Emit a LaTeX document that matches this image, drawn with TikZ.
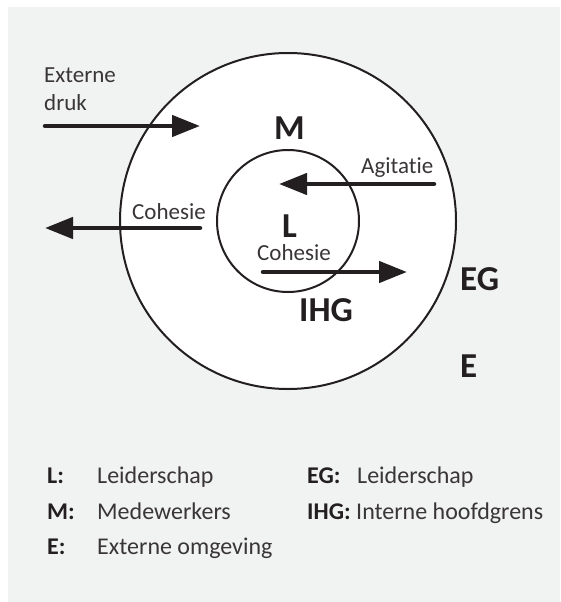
\documentclass[tikz,border=0pt]{standalone}
\usepackage{fontspec}
\setmainfont{Carlito}[Ligatures=NoCommon]
\usetikzlibrary{arrows.meta}
\definecolor{bgc}{HTML}{F1F2F2}
\definecolor{ink}{HTML}{231F20}
\definecolor{inklight}{HTML}{3A3637}
\tikzset{
  ring/.style={circle, draw=ink, line width=2pt, fill=white, inner sep=0pt},
  flow/.style={draw=ink, line width=4.5pt, line cap=round, -{Triangle[length=28pt,width=21pt]}},
  lbl/.style={anchor=base west, inner sep=0pt, text=inklight, font=\fontsize{23}{26}\selectfont},
  big/.style={anchor=base west, inner sep=0pt, text=ink, font=\fontsize{35}{38}\selectfont\bfseries},
  keyb/.style={anchor=base west, inner sep=0pt, text=ink, font=\fontsize{24}{27}\selectfont\bfseries},
  keyt/.style={anchor=base west, inner sep=0pt, text=inklight, font=\fontsize{24}{27}\selectfont}
}
\begin{document}
\begin{tikzpicture}[x=1pt,y=-1pt]
\fill[white] (0,0) rectangle (560,602);
\fill[bgc] (8,7) rectangle (560,602);
\useasboundingbox (0,0) rectangle (560,602);
% circles
\node[ring, minimum size=336pt] (outer) at (288,221) {};
\node[ring, minimum size=142pt] (inner) at (288,221) {};
% arrow end points
\coordinate (ext1) at (45,126);
\coordinate (ext2) at (200,126);
\coordinate (coh1) at (200,228);
\coordinate (coh2) at (45,228);
\coordinate (agi1) at (434,184);
\coordinate (agi2) at (279,184);
\coordinate (ic1) at (263,272);
\coordinate (ic2) at (407,272);
\draw[flow] (ext1) -- (ext2);
\draw[flow] (coh1) -- (coh2);
\draw[flow] (agi1) -- (agi2);
\draw[flow] (ic1) -- (ic2);
% labels
\node[lbl] (t1) at (44,82) {Externe};
\node[lbl] (t2) at (44,110) {druk};
\node[lbl] (t3) at (132,219) {Cohesie};
\node[lbl] (t4) at (361,173) {Agitatie};
\node[lbl] (t5) at (257,260) {Cohesie};
\node[big] (m) at (274,139) {M};
\node[big] (l) at (282,237) {L};
\node[big] (ihg) at (299,321) {IHG};
\node[big] (eg) at (460,290) {EG};
\node[big] (e) at (460,377) {E};
% legend
\node[keyb] (k1) at (47,483) {L:};
\node[keyt] (d1) at (97,483) {Leiderschap};
\node[keyb] (k2) at (47,519) {M:};
\node[keyt] (d2) at (97,519) {Medewerkers};
\node[keyb] (k3) at (47,554) {E:};
\node[keyt] (d3) at (97,554) {Externe omgeving};
\node[keyb] (k4) at (307,483) {EG:};
\node[keyt] (d4) at (357,483) {Leiderschap};
\node[keyb] (k5) at (307,519) {IHG:};
\node[keyt] (d5) at (356,519) {Interne hoofdgrens};
\end{tikzpicture}
\end{document}
